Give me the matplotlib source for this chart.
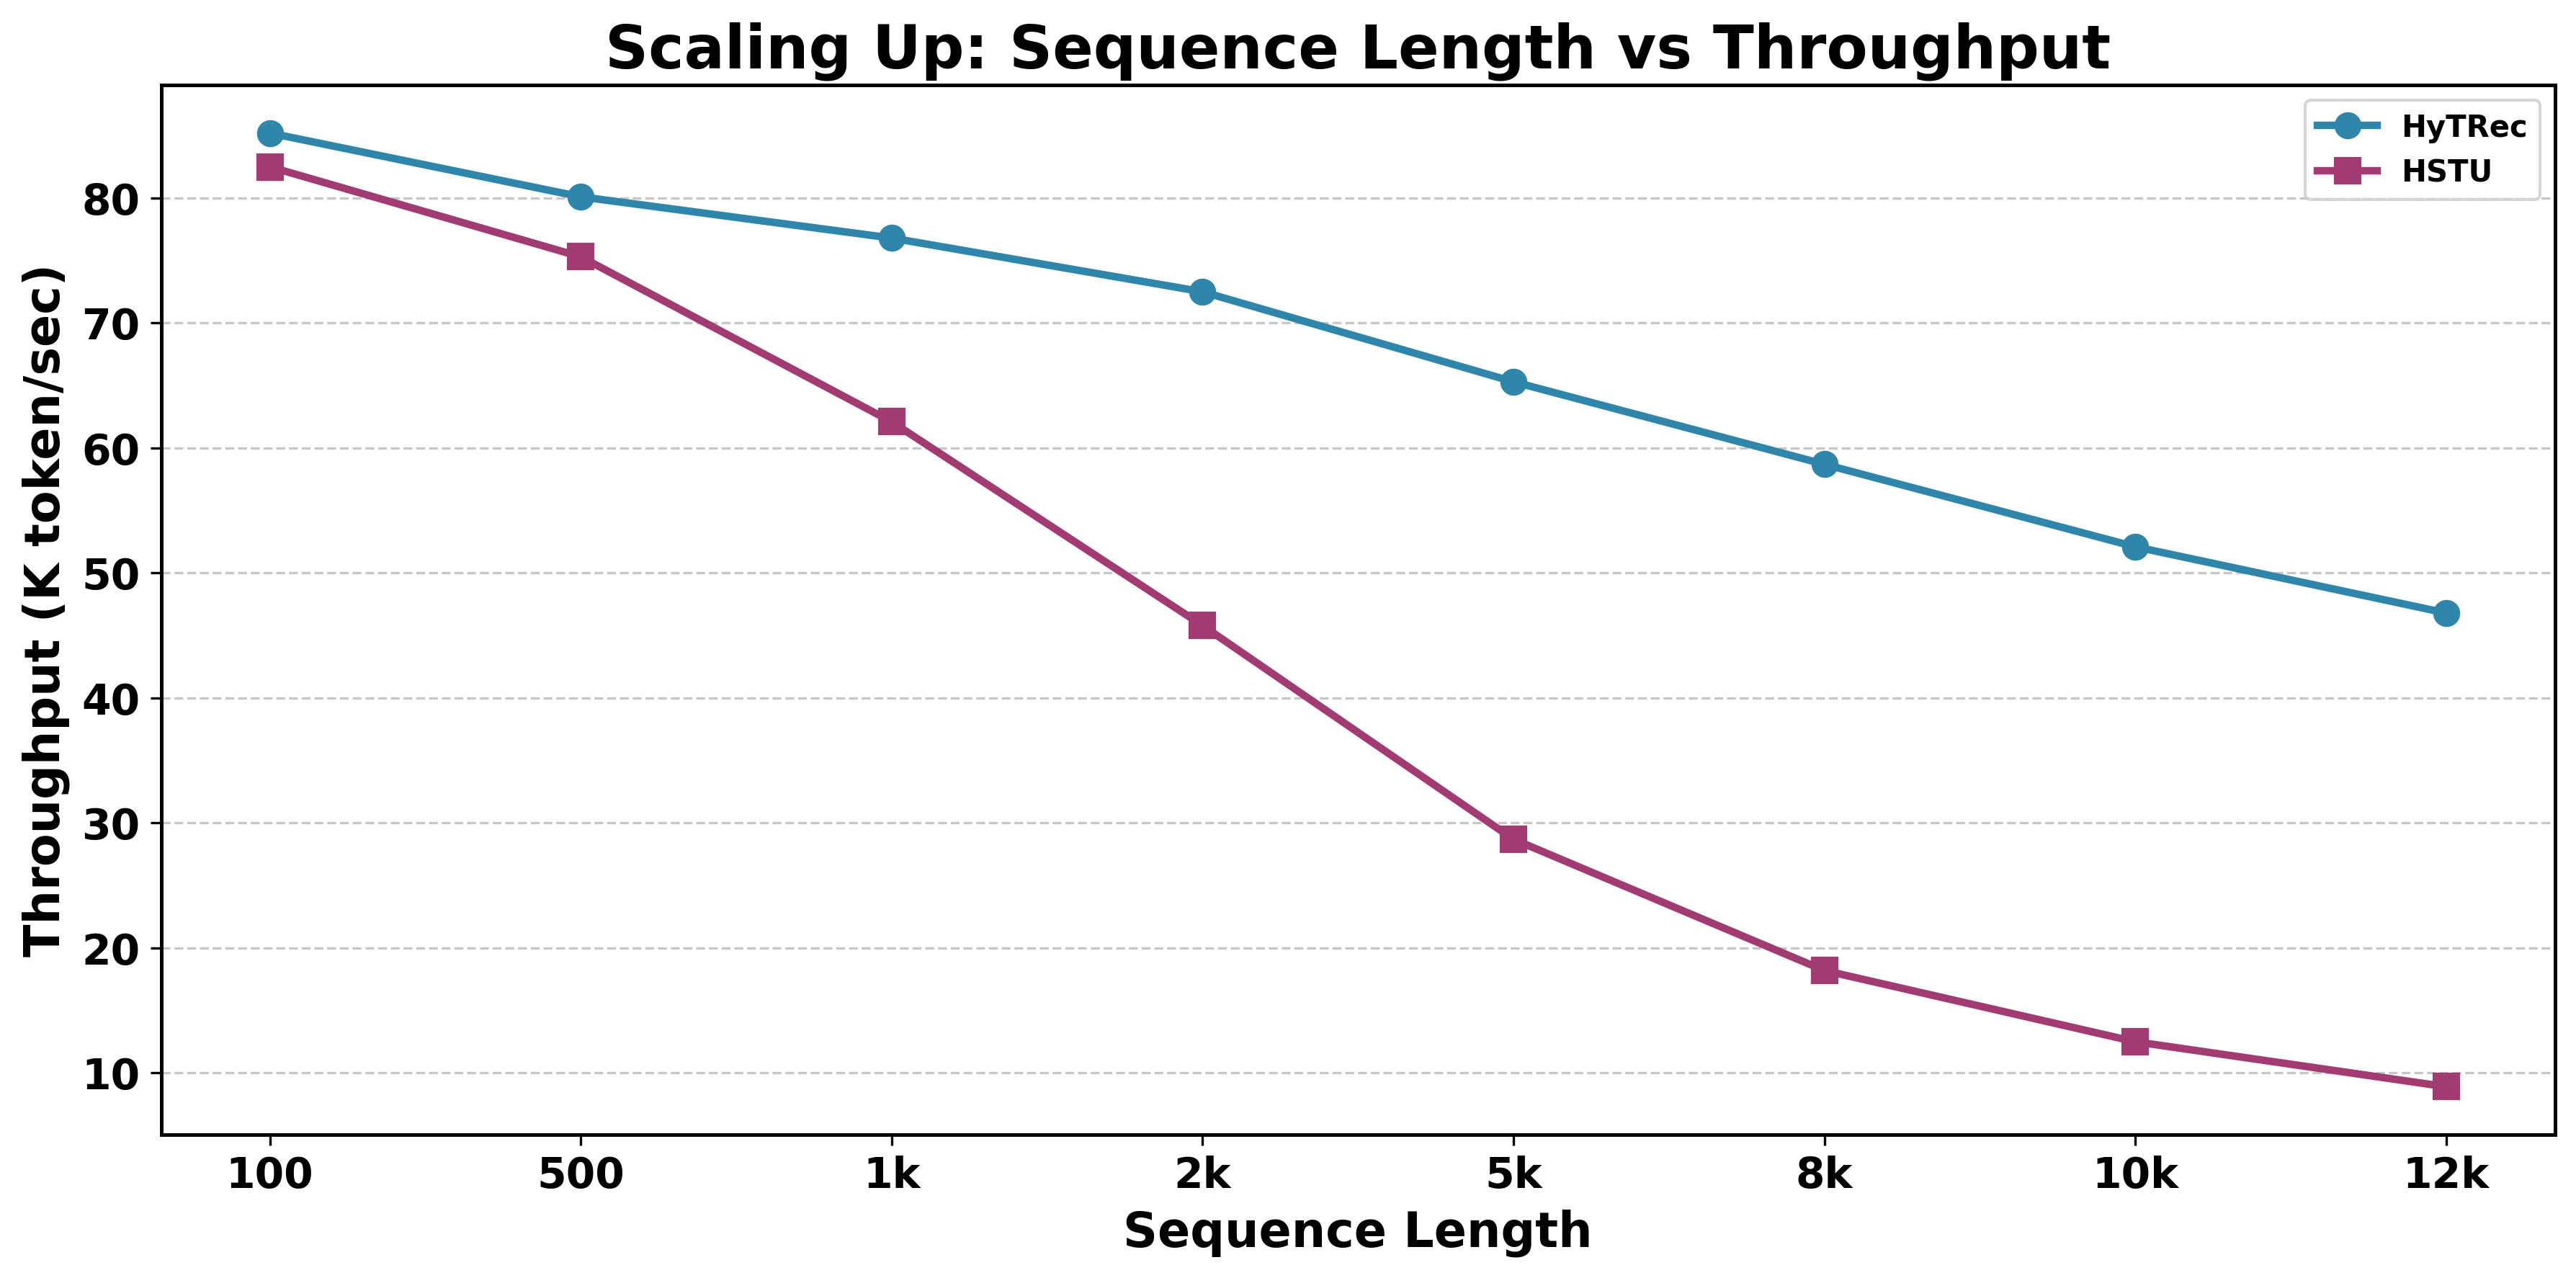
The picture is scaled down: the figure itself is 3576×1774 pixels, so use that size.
import matplotlib
matplotlib.use("Agg")
import matplotlib.pyplot as plt
import numpy as np

# Data
seq_labels = ["100", "500", "1k", "2k", "5k", "8k", "10k", "12k"]
hytrec = [85.2, 80.1, 76.8, 72.5, 65.3, 58.7, 52.1, 46.8]
hstu = [82.5, 75.3, 62.1, 45.8, 28.7, 18.2, 12.5, 8.9]

x = np.arange(len(seq_labels))

fig, ax = plt.subplots(figsize=(12, 6))
ax.plot(x, hytrec, marker="o", color="#2E86AB", linewidth=2.5, markersize=8, label="HyTRec")
ax.plot(x, hstu, marker="s", color="#A23B72", linewidth=2.5, markersize=8, label="HSTU")

ax.set_xticks(x)
ax.set_xticklabels(seq_labels, fontsize=14, fontweight="bold")
ax.tick_params(axis="y", labelsize=14)
ax.set_xlabel("Sequence Length", fontsize=16, fontweight="bold")
ax.set_ylabel("Throughput (K token/sec)", fontsize=16, fontweight="bold")
ax.set_title("Scaling Up: Sequence Length vs Throughput", fontsize=20, fontweight="bold")
ax.grid(axis="y", linestyle="--", alpha=0.7)
ax.set_yticks([10, 20, 30, 40, 50, 60, 70, 80])
for lab in ax.get_yticklabels():
    lab.set_fontweight("bold")
for sp in ax.spines.values():
    sp.set_linewidth(1.2)
ax.legend(loc="upper right", prop={"weight": "bold", "size": 10})

plt.tight_layout()
plt.savefig("out.png", dpi=300, bbox_inches="tight")
